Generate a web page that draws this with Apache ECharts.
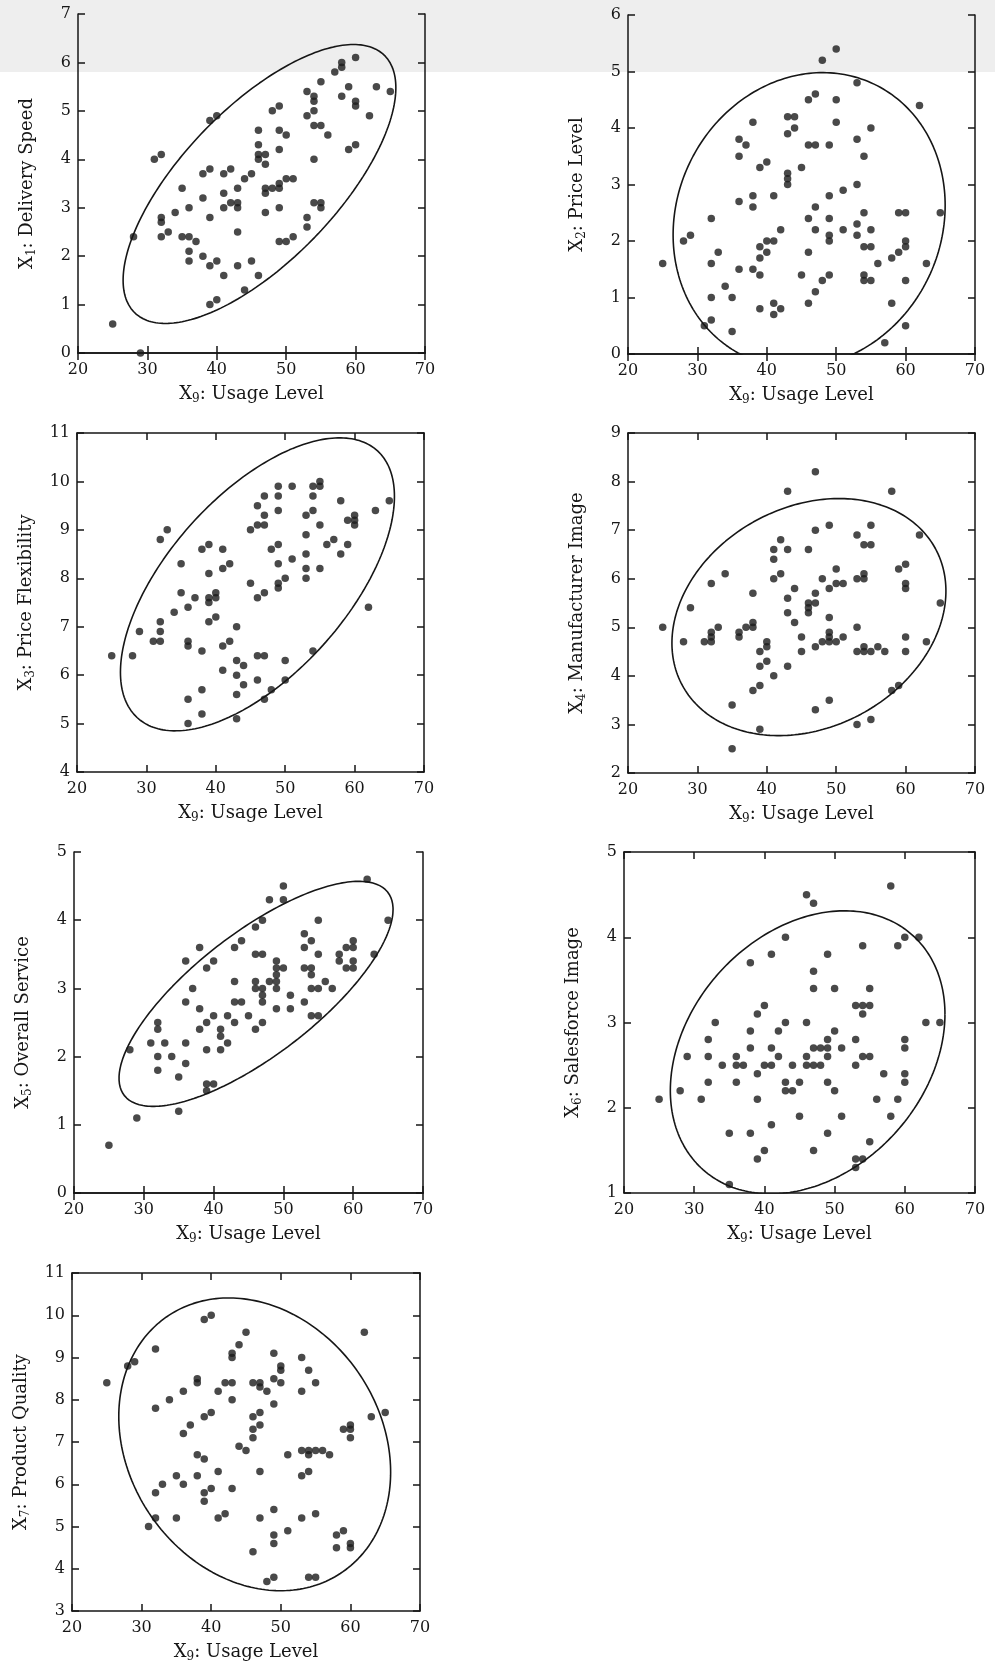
<!DOCTYPE html>
<html>
<head>
<meta charset="utf-8">
<script src="https://cdn.jsdelivr.net/npm/echarts@6/dist/echarts.min.js"></script>
<style>
  html, body { margin: 0; padding: 0; background: #fff; }
  #main { width: 995px; height: 1670px; }
</style>
</head>
<body>
<div id="main"></div>
<script>
// X9 usage level against each of the other variables
var usageTicks = [20, 30, 40, 50, 60, 70];

var deliverySpeed = [[25,0.6],[29,0],[28,2.4],[31,4.0],[32,4.1],[32,2.8],[32,2.7],[32,2.4],[33,2.5],[34,2.9],[35,3.4],[35,2.4],[36,2.4],[36,3.0],[36,2.1],[36,1.9],[37,2.3],[38,3.7],[38,3.2],[38,2.0],[39,3.8],[39,2.8],[39,1.8],[39,1.0],[39,4.8],[40,4.9],[40,1.9],[40,1.1],[41,3.7],[41,3.3],[41,3.0],[41,1.6],[42,3.8],[42,3.1],[43,3.4],[43,3.1],[43,3.0],[43,2.5],[43,1.8],[44,3.6],[44,1.3],[45,3.7],[45,1.9],[46,4.6],[46,4.3],[46,4.1],[46,4.0],[46,1.6],[47,4.1],[47,3.9],[47,3.4],[47,3.3],[47,2.9],[48,5.0],[48,3.4],[49,5.1],[49,4.6],[49,4.2],[49,3.5],[49,3.4],[49,3.0],[49,2.3],[50,4.5],[50,3.6],[50,2.3],[51,3.6],[51,2.4],[53,5.4],[53,4.9],[53,2.8],[53,2.6],[54,5.3],[54,5.2],[54,5.0],[54,4.7],[54,4.0],[54,3.1],[55,5.6],[55,4.7],[55,3.1],[55,3.0],[56,4.5],[57,5.8],[58,6.0],[58,5.9],[58,5.3],[59,5.5],[59,4.2],[60,6.1],[60,5.2],[60,5.1],[60,4.3],[62,4.9],[63,5.5],[65,5.4]];

var priceLevel = [[25,1.6],[28,2.0],[29,2.1],[31,0.5],[32,2.4],[32,1.6],[32,1.0],[32,0.6],[33,1.8],[34,1.2],[35,1.0],[35,0.4],[36,3.8],[36,3.5],[36,2.7],[36,1.5],[37,3.7],[38,4.1],[38,2.8],[38,2.6],[38,1.5],[39,3.3],[39,1.9],[39,1.7],[39,1.4],[39,0.8],[40,3.4],[40,2.0],[40,1.8],[41,2.8],[41,2.0],[41,0.9],[41,0.7],[42,2.2],[42,0.8],[43,4.2],[43,3.9],[43,3.2],[43,3.1],[43,3.0],[44,4.2],[44,4.0],[45,3.3],[45,1.4],[46,4.5],[46,3.7],[46,2.4],[46,1.8],[46,0.9],[47,4.6],[47,3.7],[47,2.6],[47,2.2],[47,1.1],[48,5.2],[48,1.3],[49,3.7],[49,2.8],[49,2.4],[49,2.1],[49,2.0],[49,1.4],[50,5.4],[50,4.5],[50,4.1],[51,2.9],[51,2.2],[53,4.8],[53,3.8],[53,3.0],[53,2.3],[53,2.1],[54,3.5],[54,2.5],[54,1.9],[54,1.4],[54,1.3],[55,4.0],[55,2.2],[55,1.9],[55,1.3],[56,1.6],[57,0.2],[58,1.7],[58,0.9],[59,2.5],[59,1.8],[60,2.5],[60,2.0],[60,1.9],[60,1.3],[60,0.5],[62,4.4],[63,1.6],[65,2.5]];

var priceFlex = [[25,6.4],[28,6.4],[29,6.9],[31,6.7],[32,6.7],[32,6.9],[32,7.1],[32,8.8],[33,9.0],[34,7.3],[35,8.3],[35,7.7],[36,7.4],[36,6.7],[36,6.6],[36,5.5],[36,5.0],[37,7.6],[38,8.6],[38,6.5],[38,5.7],[38,5.2],[39,8.7],[39,8.1],[39,7.6],[39,7.5],[39,7.1],[40,7.7],[40,7.6],[40,7.2],[41,8.6],[41,8.2],[41,6.6],[41,6.1],[42,8.3],[42,6.7],[43,7.0],[43,6.3],[43,6.0],[43,5.6],[43,5.1],[44,6.2],[44,5.8],[45,9.0],[45,7.9],[46,9.5],[46,9.1],[46,7.6],[46,6.4],[46,5.9],[47,9.7],[47,9.3],[47,9.1],[47,7.7],[47,6.4],[47,5.5],[48,8.6],[48,5.7],[49,9.9],[49,9.7],[49,9.4],[49,8.7],[49,8.3],[49,7.9],[49,7.8],[50,8.0],[50,6.3],[50,5.9],[51,9.9],[51,8.4],[53,9.3],[53,8.9],[53,8.5],[53,8.2],[53,8.0],[54,9.9],[54,9.7],[54,9.4],[54,6.5],[55,10.0],[55,9.9],[55,9.1],[55,8.2],[56,8.7],[57,8.8],[58,9.6],[58,8.5],[59,9.2],[59,8.7],[60,9.3],[60,9.2],[60,9.1],[62,7.4],[63,9.4],[65,9.6]];

var mfrImage = [[25,5.0],[28,4.7],[29,5.4],[31,4.7],[32,5.9],[32,4.9],[32,4.8],[32,4.7],[33,5.0],[34,6.1],[35,3.4],[35,2.5],[36,4.9],[36,4.8],[37,5.0],[38,5.7],[38,5.1],[38,5.0],[38,3.7],[39,4.5],[39,4.2],[39,3.8],[39,2.9],[40,4.7],[40,4.6],[40,4.3],[41,6.6],[41,6.4],[41,6.0],[41,4.0],[42,6.8],[42,6.1],[43,7.8],[43,6.6],[43,5.6],[43,5.3],[43,4.2],[44,5.8],[44,5.1],[45,4.8],[45,4.5],[46,6.6],[46,5.5],[46,5.4],[46,5.3],[47,8.2],[47,7.0],[47,5.7],[47,5.5],[47,4.6],[47,3.3],[48,6.0],[48,4.7],[49,7.1],[49,5.8],[49,5.2],[49,4.9],[49,4.8],[49,4.7],[49,3.5],[50,6.2],[50,5.9],[50,4.7],[51,5.9],[51,4.8],[53,6.9],[53,6.0],[53,5.0],[53,4.5],[53,3.0],[54,6.7],[54,6.1],[54,6.0],[54,4.6],[54,4.5],[55,7.1],[55,6.7],[55,4.5],[55,3.1],[56,4.6],[57,4.5],[58,7.8],[58,3.7],[59,6.2],[59,3.8],[60,6.3],[60,5.9],[60,5.8],[60,4.8],[60,4.5],[62,6.9],[63,4.7],[65,5.5]];

var overallService = [[25,0.7],[28,2.1],[29,1.1],[31,2.2],[32,2.5],[32,2.4],[32,2.0],[32,1.8],[33,2.2],[34,2.0],[35,1.7],[35,1.2],[36,3.4],[36,2.8],[36,2.2],[36,1.9],[37,3.0],[38,3.6],[38,2.7],[38,2.4],[39,3.3],[39,2.5],[39,2.1],[39,1.6],[39,1.5],[40,3.4],[40,2.6],[40,1.6],[41,2.4],[41,2.3],[41,2.1],[42,2.6],[42,2.2],[43,3.6],[43,3.1],[43,2.8],[43,2.5],[44,3.7],[44,2.8],[45,2.6],[46,3.9],[46,3.5],[46,3.1],[46,3.0],[46,2.4],[47,4.0],[47,3.5],[47,3.0],[47,2.9],[47,2.8],[47,2.5],[48,4.3],[48,3.1],[49,3.4],[49,3.3],[49,3.2],[49,3.1],[49,3.0],[49,2.7],[50,4.5],[50,4.3],[50,3.3],[51,2.9],[51,2.7],[53,3.8],[53,3.6],[53,3.3],[53,2.8],[54,3.7],[54,3.3],[54,3.2],[54,3.0],[54,2.6],[55,4.0],[55,3.5],[55,3.0],[55,2.6],[56,3.1],[57,3.0],[58,3.5],[58,3.4],[59,3.6],[59,3.3],[60,3.7],[60,3.6],[60,3.4],[60,3.3],[62,4.6],[63,3.5],[65,4.0]];

var salesImage = [[25,2.1],[28,2.2],[29,2.6],[31,2.1],[32,2.3],[32,2.6],[32,2.8],[33,3.0],[34,2.5],[35,1.7],[35,1.1],[36,2.6],[36,2.5],[36,2.3],[37,2.5],[38,3.7],[38,2.9],[38,2.7],[38,1.7],[39,3.1],[39,2.4],[39,2.1],[39,1.4],[40,3.2],[40,2.5],[40,1.5],[41,3.8],[41,2.7],[41,2.5],[41,1.8],[42,2.9],[42,2.6],[43,4.0],[43,3.0],[43,2.3],[43,2.2],[44,2.5],[44,2.2],[45,2.3],[45,1.9],[46,4.5],[46,3.0],[46,2.6],[46,2.5],[47,4.4],[47,3.6],[47,3.4],[47,2.7],[47,2.5],[47,1.5],[48,2.7],[48,2.5],[49,3.8],[49,2.8],[49,2.7],[49,2.6],[49,2.3],[49,1.7],[50,3.4],[50,2.9],[50,2.2],[51,2.7],[51,1.9],[53,3.2],[53,2.8],[53,2.5],[53,1.4],[53,1.3],[54,3.9],[54,3.2],[54,3.1],[54,2.6],[54,1.4],[55,3.4],[55,3.2],[55,2.6],[55,1.6],[56,2.1],[57,2.4],[58,4.6],[58,1.9],[59,3.9],[59,2.1],[60,4.0],[60,2.8],[60,2.7],[60,2.4],[60,2.3],[62,4.0],[63,3.0],[65,3.0]];

var productQuality = [[25,8.4],[28,8.8],[29,8.9],[31,5.0],[32,9.2],[32,7.8],[32,5.8],[32,5.2],[33,6.0],[34,8.0],[35,6.2],[35,5.2],[36,8.2],[36,7.2],[36,6.0],[37,7.4],[38,8.5],[38,8.4],[38,6.7],[38,6.2],[39,9.9],[39,7.6],[39,6.6],[39,5.8],[39,5.6],[40,10.0],[40,7.7],[40,5.9],[41,8.2],[41,6.3],[41,5.2],[42,8.4],[42,5.3],[43,9.1],[43,9.0],[43,8.4],[43,8.0],[43,5.9],[44,9.3],[44,6.9],[45,9.6],[45,6.8],[46,8.4],[46,7.6],[46,7.3],[46,7.1],[46,4.4],[47,8.4],[47,8.3],[47,7.7],[47,7.4],[47,6.3],[47,5.2],[48,8.2],[48,3.7],[49,9.1],[49,8.5],[49,7.9],[49,5.4],[49,4.8],[49,4.6],[49,3.8],[50,8.8],[50,8.7],[50,8.4],[51,6.7],[51,4.9],[53,9.0],[53,8.2],[53,6.8],[53,6.2],[53,5.2],[54,8.7],[54,6.8],[54,6.7],[54,6.3],[54,3.8],[55,8.4],[55,6.8],[55,5.3],[55,3.8],[56,6.8],[57,6.7],[58,4.8],[58,4.5],[59,4.9],[59,7.3],[60,7.4],[60,7.3],[60,7.1],[60,4.6],[60,4.5],[62,9.6],[63,7.6],[65,7.7]];

// outlier ellipses: centre x, centre y, half width, half height, correlation
var ellipse1 = [46.15, 3.49, 19.65, 2.88, 0.69];
var ellipse2 = [46.1, 2.37, 19.6, 2.61, 0.10];
var ellipse3 = [46.0, 7.875, 19.74, 3.025, 0.60];
var ellipse4 = [46.07, 5.21, 19.74, 2.44, 0.22];
var ellipse5 = [46.08, 2.92, 19.63, 1.65, 0.75];
var ellipse6 = [46.16, 2.65, 19.56, 1.66, 0.27];
var ellipse7 = [46.25, 6.945, 19.53, 3.465, -0.19];

var panels = [
  { sub: '1', title: 'Delivery Speed', ymin: 0, ymax: 7, data: deliverySpeed, ell: ellipse1, box: [78, 14, 347, 339] },
  { sub: '2', title: 'Price Level', ymin: 0, ymax: 6, data: priceLevel, ell: ellipse2, box: [628, 15, 347, 339] },
  { sub: '3', title: 'Price Flexibility', ymin: 4, ymax: 11, data: priceFlex, ell: ellipse3, box: [77, 433, 347, 339] },
  { sub: '4', title: 'Manufacturer Image', ymin: 2, ymax: 9, data: mfrImage, ell: ellipse4, box: [628, 433, 347, 340] },
  { sub: '5', title: 'Overall Service', ymin: 0, ymax: 5, data: overallService, ell: ellipse5, box: [74, 852, 349, 341] },
  { sub: '6', title: 'Salesforce Image', ymin: 1, ymax: 5, data: salesImage, ell: ellipse6, box: [624, 852, 351, 341] },
  { sub: '7', title: 'Product Quality', ymin: 3, ymax: 11, data: productQuality, ell: ellipse7, box: [72, 1273, 348, 338] }
];

function ellipsePoints(p) {
  var cx = p[0], cy = p[1], rx = p[2], ry = p[3], rho = p[4];
  var s = Math.sqrt(1 - rho * rho);
  var pts = [];
  for (var i = 0; i <= 240; i++) {
    var t = i / 240 * 2 * Math.PI;
    pts.push([cx + rx * Math.cos(t), cy + ry * (rho * Math.cos(t) - s * Math.sin(t))]);
  }
  return pts;
}

var ink = '#161616';
var font = '"DejaVu Serif", "Liberation Serif", serif';
var rich = {
  m: { fontFamily: font, fontSize: 18, color: ink },
  s: { fontFamily: font, fontSize: 12, color: ink, padding: [9, 0, 0, 0] }
};
var lineStyle = { color: ink, width: 1.5 };

var grid = [], xAxis = [], yAxis = [], series = [];
panels.forEach(function (p, i) {
  grid.push({ left: p.box[0], top: p.box[1], width: p.box[2], height: p.box[3] });
  // bottom axis with labels, top axis only ticks
  xAxis.push({
    gridIndex: i, type: 'value', min: usageTicks[0], max: usageTicks[usageTicks.length - 1], interval: 10,
    position: 'bottom',
    name: '{m|X}{s|9}{m|: Usage Level}', nameLocation: 'middle', nameGap: 31,
    nameTextStyle: { rich: rich },
    axisLine: { show: true, lineStyle: lineStyle },
    axisTick: { show: true, inside: true, length: 7, lineStyle: lineStyle },
    axisLabel: { fontFamily: font, fontSize: 16, color: ink, margin: 9, showMinLabel: true, showMaxLabel: true },
    splitLine: { show: false }
  });
  xAxis.push({
    gridIndex: i, type: 'value', min: usageTicks[0], max: usageTicks[usageTicks.length - 1], interval: 10,
    position: 'top',
    axisLine: { show: true, lineStyle: lineStyle },
    axisTick: { show: true, inside: true, length: 7, lineStyle: lineStyle },
    axisLabel: { show: false },
    splitLine: { show: false }
  });
  yAxis.push({
    gridIndex: i, type: 'value', min: p.ymin, max: p.ymax, interval: 1,
    position: 'left',
    name: '{m|X}{s|' + p.sub + '}{m|: ' + p.title + '}', nameLocation: 'middle', nameGap: 40,
    nameTextStyle: { rich: rich },
    axisLine: { show: true, lineStyle: lineStyle },
    axisTick: { show: true, inside: true, length: 7, lineStyle: lineStyle },
    axisLabel: { fontFamily: font, fontSize: 16, color: ink, margin: 7, showMinLabel: true, showMaxLabel: true },
    splitLine: { show: false }
  });
  yAxis.push({
    gridIndex: i, type: 'value', min: p.ymin, max: p.ymax, interval: 1,
    position: 'right',
    axisLine: { show: true, lineStyle: lineStyle },
    axisTick: { show: true, inside: true, length: 7, lineStyle: lineStyle },
    axisLabel: { show: false },
    splitLine: { show: false }
  });
  series.push({
    type: 'scatter', xAxisIndex: 2 * i, yAxisIndex: 2 * i,
    data: p.data, symbolSize: 7.5,
    itemStyle: { color: '#1c1c1c' }
  });
  series.push({
    type: 'line', xAxisIndex: 2 * i, yAxisIndex: 2 * i,
    data: ellipsePoints(p.ell), showSymbol: false, symbol: 'none', clip: true,
    lineStyle: { color: ink, width: 1.6 }
  });
});

var chart = echarts.init(document.getElementById('main'), null, { renderer: 'canvas' });
chart.setOption({
  backgroundColor: '#ffffff',
  animation: false,
  graphic: [
    { type: 'rect', z: -10, shape: { x: 0, y: 0, width: 995, height: 72 }, style: { fill: '#eeeeee' } }
  ],
  grid: grid,
  xAxis: xAxis,
  yAxis: yAxis,
  series: series
});
</script>
</body>
</html>
